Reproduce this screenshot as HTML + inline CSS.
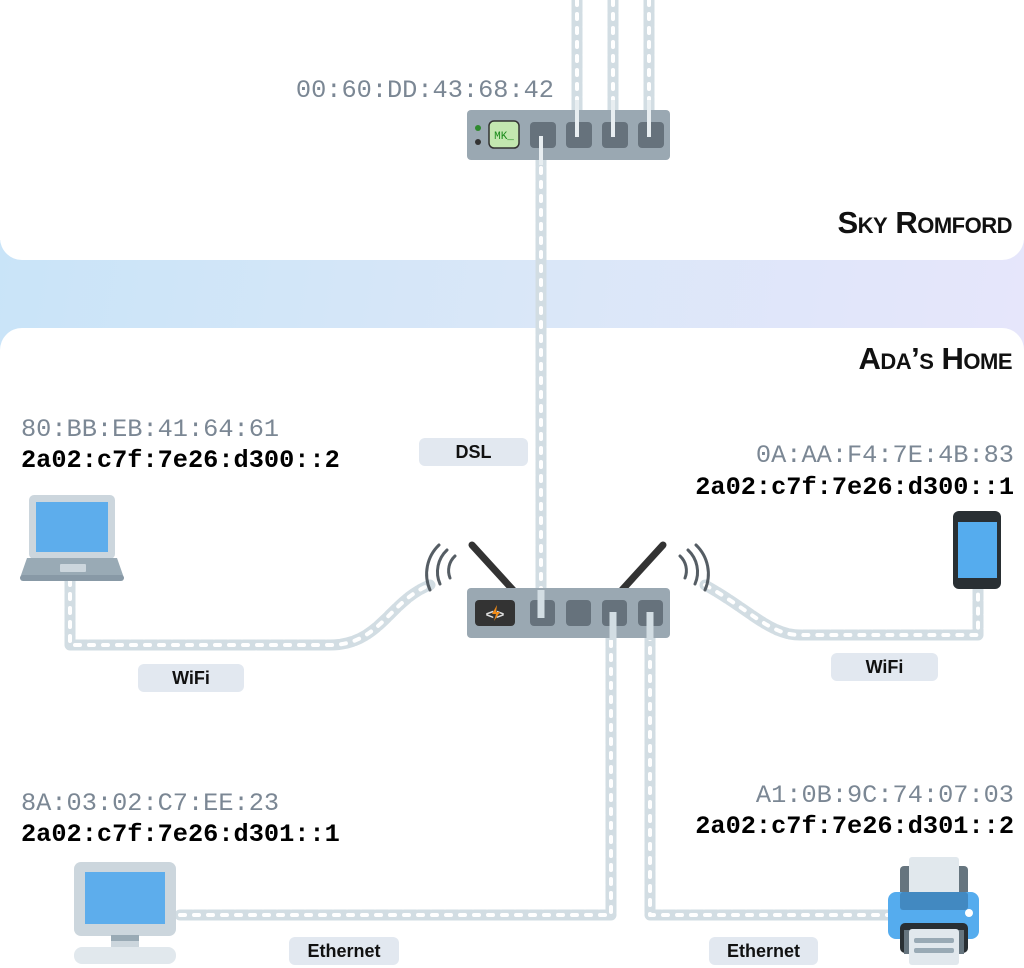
<!DOCTYPE html>
<html><head><meta charset="utf-8"><style>
html,body{margin:0;padding:0;width:1024px;height:968px;overflow:hidden;background:#fff;position:relative}
.band{position:absolute;left:0;top:240px;width:1024px;height:110px;background:linear-gradient(100deg,#c9e4f8,#d9e7f8 50%,#e6e6fb)}
.p1{position:absolute;left:0;top:0;width:1024px;height:260px;background:#fff;border-radius:0 0 22px 22px}
.p2{position:absolute;left:0;top:328px;width:1024px;height:640px;background:#fff;border-radius:22px 22px 0 0}
svg{position:absolute;left:0;top:0}
.t{position:absolute;font-family:"Liberation Mono",monospace;font-size:25.3px;line-height:32px;white-space:nowrap}
.g{color:#7b8794}.b{color:#000;font-weight:bold}
.r{text-align:right}
.h{position:absolute;right:12px;font-family:"Liberation Sans",sans-serif;font-weight:bold;font-size:31px;font-variant:small-caps;color:#111;letter-spacing:-0.5px}
.lab{position:absolute;background:#e2e8f0;border-radius:6px;font-family:"Liberation Sans",sans-serif;font-weight:bold;font-size:18px;color:#111;text-align:center;line-height:28px}
</style></head><body>
<div class="band"></div><div class="p1"></div><div class="p2"></div>
<div class="h" style="top:205px">Sky Romford</div>
<div class="h" style="top:341px">Ada’s Home</div>
<svg width="1024" height="968" viewBox="0 0 1024 968">
<g fill="none" stroke-linejoin="round" stroke-linecap="round">
<g stroke="#d2dde3" stroke-width="11" stroke-dasharray="12 2">
<path d="M577 0V135M613 0V135M649 0V135"/>
<path d="M541 140V615"/>
<path d="M70 580V645H330C380 645 390 600 430 585"/>
<path d="M705 585C750 610 770 635 800 635H978V590"/>
<path d="M180 915H611V620"/>
<path d="M650 620V915H890"/>
</g>
<g stroke="#fff" stroke-width="4" stroke-dasharray="5 9">
<path d="M577 0V135M613 0V135M649 0V135"/>
<path d="M541 140V615"/>
<path d="M70 580V645H330C380 645 390 600 430 585"/>
<path d="M705 585C750 610 770 635 800 635H978V590"/>
<path d="M180 915H611V620"/>
<path d="M650 620V915H890"/>
</g>
</g>
<rect x="467" y="110" width="203" height="50" rx="4" fill="#9aa8b2"/>
<circle cx="478" cy="128" r="3" fill="#2f8a2f"/><circle cx="478" cy="142" r="3" fill="#333"/>
<rect x="489" y="121" width="30" height="27" rx="5" fill="#c3e7b0" stroke="#333" stroke-width="1.5"/>
<text x="504" y="139" font-family="Liberation Mono,monospace" font-size="11" fill="#1a8a1a" text-anchor="middle">MK_</text>
<g fill="#66727c"><rect x="530" y="122" width="26" height="26" rx="4"/><rect x="566" y="122" width="26" height="26" rx="4"/><rect x="602" y="122" width="26" height="26" rx="4"/><rect x="638" y="122" width="26" height="26" rx="4"/></g>
<g stroke="#e8eef1" stroke-width="4"><path d="M541 136V165M577 100V137M613 100V137M649 100V137"/></g>
<g stroke="#333" stroke-width="7" stroke-linecap="round"><path d="M472 545L513 590M663 545L622 590"/></g>
<g fill="none" stroke-linecap="round">
<path d="M455 556a20 20 0 0 0 -5 22M447 550a30 30 0 0 0 -7 34M439 545a40 40 0 0 0 -9 45" stroke="#555d64" stroke-width="3"/>
<path d="M680 556a20 20 0 0 1 5 22M688 550a30 30 0 0 1 7 34M696 545a40 40 0 0 1 9 45" stroke="#555d64" stroke-width="3"/>
</g>
<rect x="467" y="588" width="203" height="50" rx="4" fill="#9aa8b2"/>
<rect x="475" y="600" width="40" height="26" rx="4" fill="#333"/>
<text x="495" y="619" font-family="Liberation Sans,sans-serif" font-size="14" font-weight="bold" fill="#ddd" text-anchor="middle">&lt;&#8202;&#8202;&gt;</text>
<path d="M497 605l-5 9h4l-2 7 6-9h-4z" fill="#f28c18"/>
<g fill="#66727c"><rect x="530" y="600" width="25" height="26" rx="4"/><rect x="566" y="600" width="25" height="26" rx="4"/><rect x="602" y="600" width="25" height="26" rx="4"/><rect x="638" y="600" width="25" height="26" rx="4"/></g>
<g stroke="#d2dde3" stroke-width="7"><path d="M541 590V618M613 612V640M650 612V640"/></g>
<rect x="29" y="495" width="86" height="64" rx="5" fill="#ccd6dd"/>
<rect x="36" y="502" width="72" height="50" fill="#5dadec"/>
<path d="M27 558H117L124 578H20Z" fill="#99aab5"/>
<rect x="20" y="575" width="104" height="6" rx="3" fill="#8899a6"/>
<rect x="60" y="564" width="26" height="8" rx="1" fill="#ccd6dd"/>
<rect x="953" y="511" width="48" height="78" rx="6" fill="#292f33"/>
<rect x="958" y="522" width="39" height="56" fill="#55acee"/>
<rect x="74" y="862" width="102" height="74" rx="7" fill="#ccd6dd"/>
<rect x="85" y="872" width="80" height="52" fill="#5dadec"/>
<rect x="111" y="935" width="28" height="6" fill="#99aab5"/>
<rect x="111" y="941" width="28" height="6" fill="#ccd6dd"/>
<rect x="74" y="947" width="102" height="17" rx="8" fill="#e1e8ed"/>
<rect x="900" y="866" width="68" height="40" rx="4" fill="#66757f"/>
<rect x="909" y="857" width="50" height="40" rx="3" fill="#e1e8ed"/>
<rect x="888" y="892" width="91" height="47" rx="8" fill="#55acee"/>
<rect x="900" y="892" width="68" height="18" rx="3" fill="#4289c1"/>
<circle cx="969" cy="913" r="4" fill="#fff"/>
<rect x="900" y="923" width="68" height="30" rx="5" fill="#292f33"/>
<rect x="904" y="930" width="60" height="24" fill="#66757f"/>
<rect x="909" y="929" width="50" height="36" rx="3" fill="#e1e8ed"/>
<rect x="914" y="938" width="40" height="5" rx="2" fill="#99aab5"/><rect x="914" y="948" width="40" height="5" rx="2" fill="#99aab5"/>
</svg>
<div class="t g r" style="right:470px;top:75px">00:60:DD:43:68:42</div>
<div class="t g" style="left:21px;top:414px">80:BB:EB:41:64:61</div>
<div class="t b" style="left:21px;top:445px">2a02:c7f:7e26:d300::2</div>
<div class="t g r" style="right:10px;top:440px">0A:AA:F4:7E:4B:83</div>
<div class="t b r" style="right:10px;top:472px">2a02:c7f:7e26:d300::1</div>
<div class="t g" style="left:21px;top:788px">8A:03:02:C7:EE:23</div>
<div class="t b" style="left:21px;top:819px">2a02:c7f:7e26:d301::1</div>
<div class="t g r" style="right:10px;top:780px">A1:0B:9C:74:07:03</div>
<div class="t b r" style="right:10px;top:811px">2a02:c7f:7e26:d301::2</div>
<div class="lab" style="left:419px;top:438px;width:109px">DSL</div>
<div class="lab" style="left:138px;top:664px;width:106px">WiFi</div>
<div class="lab" style="left:831px;top:653px;width:107px">WiFi</div>
<div class="lab" style="left:289px;top:937px;width:110px">Ethernet</div>
<div class="lab" style="left:709px;top:937px;width:109px">Ethernet</div>
</body></html>
